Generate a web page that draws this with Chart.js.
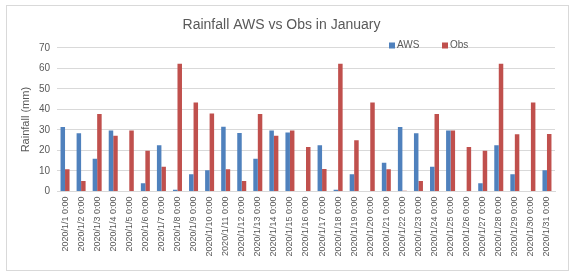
<!DOCTYPE html>
<html>
<head>
<meta charset="utf-8">
<script src="https://cdn.jsdelivr.net/npm/chart.js@4/dist/chart.umd.min.js"></script>
<style>
  html, body { margin: 0; padding: 0; background: #ffffff; }
  #wrap { position: relative; width: 576px; height: 278px; }
</style>
</head>
<body>
<div id="wrap"><canvas id="c" width="576" height="278"></canvas></div>
<script>
const categories = [
  "2020/1/1 0:00","2020/1/2 0:00","2020/1/3 0:00","2020/1/4 0:00","2020/1/5 0:00",
  "2020/1/6 0:00","2020/1/7 0:00","2020/1/8 0:00","2020/1/9 0:00","2020/1/10 0:00",
  "2020/1/11 0:00","2020/1/12 0:00","2020/1/13 0:00","2020/1/14 0:00","2020/1/15 0:00",
  "2020/1/16 0:00","2020/1/17 0:00","2020/1/18 0:00","2020/1/19 0:00","2020/1/20 0:00",
  "2020/1/21 0:00","2020/1/22 0:00","2020/1/23 0:00","2020/1/24 0:00","2020/1/25 0:00",
  "2020/1/26 0:00","2020/1/27 0:00","2020/1/28 0:00","2020/1/29 0:00","2020/1/30 0:00",
  "2020/1/31 0:00"
];
const awsValues = [
  31.4, 28.4, 16.0, 29.7, 0, 4.0, 22.5, 0.8, 8.4, 10.3,
  31.5, 28.5, 16.0, 29.7, 28.7, 0, 22.5, 0.8, 8.4, 0, 
  14.0, 31.4, 28.4, 12.0, 29.7, 0, 4.0, 22.5, 8.4, 0,
  10.3
];
const obsValues = [
  10.8, 5.1, 37.7, 27.1, 29.7, 19.8, 12.0, 62.2, 43.3, 38.0,
  10.8, 5.1, 37.7, 27.1, 29.7, 21.7, 11.0, 62.2, 25.0, 43.3,
  10.8, 0.4, 5.1, 37.7, 29.7, 21.7, 19.8, 62.2, 27.9, 43.3,
  28.0
];
const yTicks = [0, 10, 20, 30, 40, 50, 60, 70];
const titleText = "Rainfall AWS vs Obs in January";
const yTitle = "Rainfall (mm)";

const FONT = "'Liberation Sans', Arial, sans-serif";
const TXT = "#595959";

const framePlugin = {
  id: 'frame',
  beforeDraw(chart) {
    const ctx = chart.ctx;
    ctx.save();
    ctx.fillStyle = '#ffffff';
    ctx.fillRect(0, 0, chart.width, chart.height);
    ctx.strokeStyle = '#d9d9d9';
    ctx.lineWidth = 1;
    ctx.strokeRect(6.5, 5.5, 562, 265);
    ctx.restore();
  }
};

const legendPlugin = {
  id: 'sideLegend',
  afterDraw(chart) {
    const ctx = chart.ctx;
    ctx.save();
    ctx.font = "10px " + FONT;
    ctx.textBaseline = 'middle';
    ctx.textAlign = 'left';
    const starts = [389, 442];
    chart.data.datasets.forEach((ds, i) => {
      const x = starts[i];
      const y = 45.5;
      ctx.fillStyle = ds.backgroundColor;
      ctx.fillRect(x, y - 3, 6, 6);
      ctx.fillStyle = TXT;
      ctx.fillText(ds.label, x + 8, y);
    });
    ctx.restore();
  }
};

new Chart(document.getElementById('c'), {
  type: 'bar',
  data: {
    labels: categories,
    datasets: [
      { label: 'AWS', data: awsValues, backgroundColor: '#4F81BD',
        categoryPercentage: 0.56, barPercentage: 1.0 },
      { label: 'Obs', data: obsValues, backgroundColor: '#C0504D',
        categoryPercentage: 0.56, barPercentage: 1.0 }
    ]
  },
  plugins: [framePlugin, legendPlugin],
  options: {
    responsive: false,
    animation: false,
    devicePixelRatio: 1,
    layout: { padding: { left: 8, right: 21, top: 0, bottom: 0 } },
    plugins: {
      legend: { display: false },
      tooltip: { enabled: false },
      title: {
        display: true,
        text: titleText,
        color: TXT,
        font: { family: FONT, size: 14, weight: 'normal' },
        padding: { top: 17, bottom: 14 }
      }
    },
    scales: {
      x: {
        grid: { display: false, drawTicks: false },
        border: { display: true, color: '#d9d9d9' },
        ticks: {
          autoSkip: false, minRotation: 90, maxRotation: 90,
          color: TXT, padding: 5,
          font: { family: FONT, size: 9 }
        },
        afterFit(scale) { scale.height = 86.5; }
      },
      y: {
        min: 0, max: 70,
        afterBuildTicks(scale) { scale.ticks = yTicks.map(v => ({ value: v })); },
        grid: { color: '#d9d9d9', drawTicks: false },
        border: { display: false },
        ticks: { color: TXT, padding: 7, font: { family: FONT, size: 10 } },
        title: {
          display: true, text: yTitle, color: TXT,
          font: { family: FONT, size: 11 },
          padding: { top: 11, bottom: 0 }
        },
        afterFit(scale) { scale.width = 49; }
      }
    }
  }
});
</script>
</body>
</html>
